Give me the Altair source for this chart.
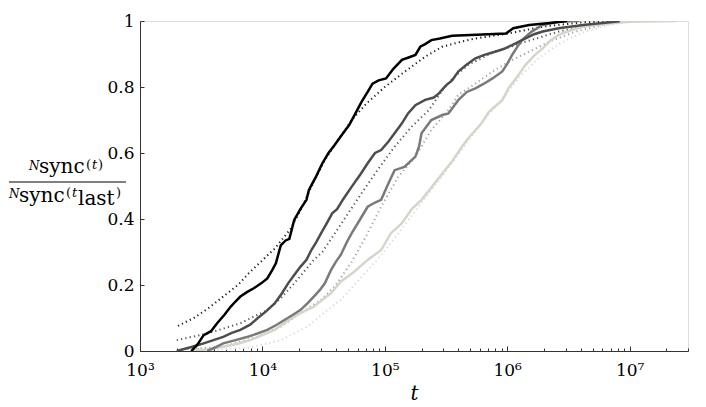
import altair as alt
import pandas as pd

# ---- data (log10 t, fraction) ----
black_L = [3.42, 3.47, 3.52, 3.58, 3.63, 3.69, 3.74, 3.78, 3.82, 3.88, 3.93, 3.99, 4.04, 4.08, 4.11, 4.15,
           4.19, 4.22, 4.26, 4.31, 4.36, 4.38, 4.44, 4.49, 4.54, 4.59, 4.65, 4.71, 4.76, 4.81, 4.86, 4.90,
           4.95, 5.01, 5.07, 5.14, 5.20, 5.25, 5.29, 5.33, 5.38, 5.45, 5.55, 5.75, 5.99, 6.05, 6.18, 6.35, 6.49]
black_f = [0.0, 0.02, 0.048, 0.06, 0.084, 0.11, 0.134, 0.15, 0.165, 0.18, 0.19, 0.205, 0.22, 0.245, 0.266, 0.32,
           0.335, 0.34, 0.397, 0.43, 0.458, 0.488, 0.53, 0.569, 0.6, 0.624, 0.655, 0.685, 0.72, 0.755, 0.785, 0.81,
           0.82, 0.826, 0.855, 0.882, 0.89, 0.897, 0.922, 0.93, 0.942, 0.947, 0.955, 0.958, 0.962, 0.978, 0.988, 0.994, 1.0]

black_dot_L = [3.31, 3.44, 3.56, 3.68, 3.80, 3.90, 4.00, 4.10, 4.23, 4.33, 4.40, 4.51, 4.62, 4.73, 4.85, 5.00,
               5.14, 5.33, 5.47, 5.62, 5.74, 6.01, 6.29, 6.62, 6.92]
black_dot_f = [0.076, 0.10, 0.13, 0.165, 0.20, 0.24, 0.275, 0.31, 0.37, 0.44, 0.498, 0.579, 0.64, 0.70, 0.75, 0.80,
               0.84, 0.892, 0.922, 0.937, 0.947, 0.962, 0.983, 0.996, 0.999]

dark_L = [3.30, 3.42, 3.52, 3.60, 3.68, 3.75, 3.82, 3.90, 3.96, 4.03, 4.10, 4.16, 4.21, 4.26, 4.31, 4.36, 4.40,
          4.44, 4.48, 4.53, 4.57, 4.61, 4.66, 4.73, 4.80, 4.86, 4.92, 4.97, 5.03, 5.08, 5.14, 5.19, 5.25, 5.33,
          5.40, 5.44, 5.50, 5.55, 5.60, 5.67, 5.74, 5.82, 5.90, 5.97, 6.04, 6.15, 6.22, 6.29, 6.42, 6.62, 6.80, 6.92]
dark_f = [0.0, 0.012, 0.023, 0.033, 0.043, 0.055, 0.064, 0.08, 0.099, 0.12, 0.144, 0.175, 0.205, 0.23, 0.255,
          0.276, 0.306, 0.33, 0.357, 0.39, 0.417, 0.43, 0.46, 0.498, 0.535, 0.569, 0.60, 0.609, 0.635, 0.66, 0.69,
          0.72, 0.745, 0.761, 0.768, 0.78, 0.805, 0.82, 0.847, 0.868, 0.887, 0.898, 0.907, 0.915, 0.927, 0.947,
          0.96, 0.968, 0.978, 0.988, 0.995, 0.999]

dark_dot_L = [3.30, 3.55, 3.82, 4.04, 4.15, 4.26, 4.42, 4.49, 4.58, 4.67, 4.81, 4.94, 5.08, 5.22, 5.36, 5.47,
              5.55, 5.68, 5.90, 6.15, 6.42, 6.70, 6.92]
dark_dot_f = [0.033, 0.053, 0.084, 0.124, 0.16, 0.205, 0.276, 0.30, 0.35, 0.40, 0.478, 0.548, 0.619, 0.68, 0.73,
              0.79, 0.825, 0.867, 0.907, 0.937, 0.968, 0.988, 0.998]

mid_L = [3.55, 3.62, 3.68, 3.78, 3.88, 3.96, 4.04, 4.11, 4.18, 4.25, 4.31, 4.37, 4.42, 4.47, 4.51, 4.56, 4.60,
         4.64, 4.69, 4.73, 4.80, 4.86, 4.92, 4.97, 5.03, 5.08, 5.16, 5.25, 5.28, 5.30, 5.38, 5.47, 5.52, 5.60,
         5.67, 5.74, 5.81, 5.88, 5.96, 6.00, 6.04, 6.08, 6.12, 6.20, 6.29, 6.42, 6.59]
mid_f = [0.0, 0.012, 0.023, 0.033, 0.043, 0.053, 0.064, 0.078, 0.094, 0.11, 0.124, 0.145, 0.165, 0.185, 0.205,
         0.245, 0.27, 0.291, 0.33, 0.357, 0.40, 0.437, 0.45, 0.458, 0.508, 0.548, 0.558, 0.589, 0.62, 0.66, 0.70,
         0.715, 0.72, 0.76, 0.785, 0.796, 0.81, 0.826, 0.847, 0.87, 0.897, 0.92, 0.942, 0.968, 0.988, 0.998, 1.0]

mid_dot_L = [3.35, 3.68, 3.96, 4.15, 4.31, 4.48, 4.59, 4.73, 4.85, 4.97, 5.11, 5.25, 5.38, 5.52, 5.60, 5.74,
             5.88, 6.03, 6.18, 6.36, 6.56, 6.75, 6.89]
mid_dot_f = [0.005, 0.013, 0.043, 0.074, 0.114, 0.155, 0.195, 0.27, 0.35, 0.437, 0.528, 0.589, 0.67, 0.73, 0.776,
             0.81, 0.847, 0.88, 0.907, 0.94, 0.968, 0.985, 0.996]

light_L = [3.41, 3.55, 3.68, 3.80, 3.90, 4.00, 4.10, 4.18, 4.26, 4.34, 4.42, 4.49, 4.56, 4.64, 4.75, 4.86, 4.97,
           5.05, 5.14, 5.22, 5.30, 5.38, 5.47, 5.55, 5.63, 5.68, 5.79, 5.85, 5.96, 6.01, 6.08, 6.15, 6.22, 6.29,
           6.35, 6.42, 6.52, 6.62, 6.84, 7.00, 7.38]
light_f = [0.0, 0.005, 0.013, 0.022, 0.033, 0.048, 0.064, 0.085, 0.104, 0.12, 0.134, 0.155, 0.175, 0.21, 0.24,
           0.276, 0.306, 0.357, 0.387, 0.43, 0.458, 0.495, 0.538, 0.575, 0.619, 0.644, 0.69, 0.725, 0.76, 0.796,
           0.83, 0.867, 0.895, 0.917, 0.94, 0.958, 0.972, 0.983, 0.993, 0.998, 1.0]

light_dot_L = [3.45, 3.90, 4.15, 4.37, 4.53, 4.64, 4.80, 4.97, 5.14, 5.30, 5.47, 5.63, 5.79, 5.95, 6.10, 6.25,
               6.42, 6.60, 6.80, 6.95]
light_dot_f = [0.0, 0.01, 0.033, 0.074, 0.124, 0.155, 0.22, 0.29, 0.37, 0.45, 0.53, 0.61, 0.69, 0.76, 0.83, 0.885,
               0.93, 0.963, 0.985, 0.995]

major_ticks = [1e3, 1e4, 1e5, 1e6, 1e7]
minor_ticks = [m * 10 ** e for e in range(3, 7) for m in range(2, 10)] + [2e7, 3e7]
y_ticks = [0, 0.2, 0.4, 0.6, 0.8, 1]

FONT = "DejaVu Serif"
W, H = 548, 330

def frame(Ls, fs):
    return pd.DataFrame({"t": [10 ** v for v in Ls], "f": fs})

xscale = alt.Scale(type="log", domain=[1e3, 3e7], nice=False)
yscale = alt.Scale(domain=[0, 1], nice=False, zero=False)

def line_layer(Ls, fs, color, dotted, xaxis=None, yaxis=None, width=2.5):
    kw = dict(color=color, strokeWidth=width, clip=True)
    if dotted:
        kw.update(strokeDash=[1.2, 3.2], strokeWidth=2.0)
    return alt.Chart(frame(Ls, fs)).mark_line(**kw).encode(
        x=alt.X("t:Q", scale=xscale, axis=xaxis),
        y=alt.Y("f:Q", scale=yscale, axis=yaxis),
    )

sup = "['⁰','¹','²','³','⁴','⁵','⁶','⁷','⁸','⁹'][round(log(datum.value)/LN10)]"

bottom_axis = alt.Axis(orient="bottom", values=major_ticks, ticks=False, tickSize=0, grid=False,
                       labelExpr="'10' + " + sup, labelFont=FONT, labelFontSize=17, labelColor="black",
                       labelPadding=11, labelFlush=False, domainColor="#333333", domainWidth=1,
                       title="t", titleFont=FONT, titleFontStyle="italic", titleFontWeight="normal",
                       titleFontSize=20, titleColor="black", titleY=48, titleBaseline="alphabetic")
left_axis = alt.Axis(orient="left", values=y_ticks, ticks=False, tickSize=0, grid=False, format="~g",
                     labelFont=FONT, labelFontSize=17, labelColor="black", labelPadding=6, labelFlush=False,
                     domainColor="#333333", domainWidth=1, title=None)
top_major = alt.Axis(orient="top", offset=-H, values=major_ticks, labels=False, domain=False, grid=False,
                     ticks=True, tickSize=5, tickColor="#333333", title=None)
top_minor = alt.Axis(orient="top", offset=-H, values=minor_ticks, labels=False, domain=False, grid=False,
                     ticks=True, tickSize=3, tickColor="#333333", title=None)
right_ticks = alt.Axis(orient="right", offset=-W, values=y_ticks, labels=False, domain=False, grid=False,
                       ticks=True, tickSize=4, tickColor="#333333", title=None)

layers = [
    line_layer(light_dot_L, light_dot_f, "#d9d9d9", True, xaxis=top_minor),
    line_layer(mid_dot_L, mid_dot_f, "#a0a0a0", True),
    line_layer(dark_dot_L, dark_dot_f, "#555555", True),
    line_layer(black_dot_L, black_dot_f, "#1a1a1a", True, xaxis=top_major, yaxis=right_ticks),
    line_layer(light_L, light_f, "#d3d7ca", False),
    line_layer(mid_L, mid_f, "#7a7a7a", False),
    line_layer(dark_L, dark_f, "#4d4d4d", False),
    line_layer(black_L, black_f, "#000000", False, xaxis=bottom_axis, yaxis=left_axis),
]

one = alt.Data(values=[{"k": 1}])

def label(text, x, y, size, italic=False):
    return alt.Chart(one).mark_text(text=text, font=FONT, fontSize=size, align="left",
                                    baseline="alphabetic", color="black",
                                    fontStyle="italic" if italic else "normal").encode(
        x=alt.value(x), y=alt.value(y))

ylabel = [
    # numerator
    label("N", -111, 149, 12, True),
    label("sync", -101, 152, 20),
    label("(", -54, 148, 13),
    label("t", -48, 148, 13, True),
    label(")", -42, 148, 13),
    # denominator
    label("N", -131, 177, 12, True),
    label("sync", -121, 181, 20),
    label("(", -74, 176, 13),
    label("t", -68, 176, 13, True),
    label("last", -62, 184, 20),
    label(")", -24, 176, 13),
    alt.Chart(one).mark_rule(color="black", strokeWidth=1).encode(
        x=alt.value(-131), x2=alt.value(-14), y=alt.value(161)),
]

chart = alt.layer(*layers, *ylabel).resolve_axis(x="independent", y="independent").properties(
    width=W, height=H,
    autosize=alt.AutoSizeParams(type="none"),
    padding={"left": 132, "top": 13, "right": 10, "bottom": 55},
).configure_view(stroke=None).configure(background="white")

chart.save("out.html", embed_options={"renderer": "svg", "actions": False})
